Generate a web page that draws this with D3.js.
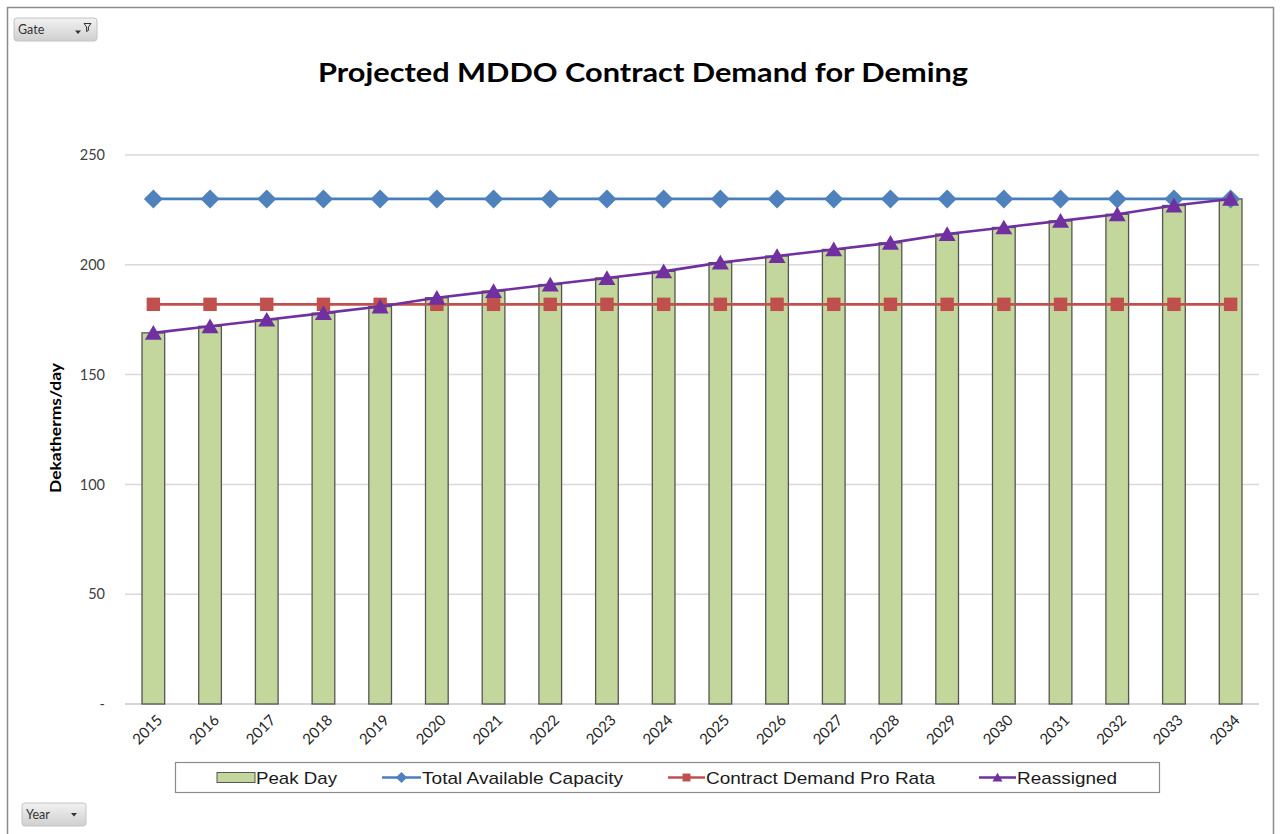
<!DOCTYPE html>
<html>
<head>
<meta charset="utf-8">
<script src="https://cdn.jsdelivr.net/npm/d3@7"></script>
<style>
  body { margin: 0; background: #fff; }
  svg { display: block; }
</style>
</head>
<body>
<svg id="chart" width="1280" height="834"></svg>
<script>
// chart data
const years = ["2015", "2016", "2017", "2018", "2019", "2020", "2021", "2022", "2023", "2024",
  "2025", "2026", "2027", "2028", "2029", "2030", "2031", "2032", "2033", "2034"];
const peakDay = [169, 172, 175, 178, 181, 185, 188, 191, 194, 197,
  201, 204, 207, 210, 214, 217, 220, 223, 227, 230];
const totalCapacity = [230, 230, 230, 230, 230, 230, 230, 230, 230, 230,
  230, 230, 230, 230, 230, 230, 230, 230, 230, 230];
const contractProRata = [182, 182, 182, 182, 182, 182, 182, 182, 182, 182,
  182, 182, 182, 182, 182, 182, 182, 182, 182, 182];
const reassigned = [169, 172, 175, 178, 181, 185, 188, 191, 194, 197,
  201, 204, 207, 210, 214, 217, 220, 223, 227, 230];
const yTicks = [0, 50, 100, 150, 200, 250];
const yTickLabels = ["-", "50", "100", "150", "200", "250"];

const svg = d3.select('#chart');
const labelFont = "Lato, 'Open Sans', sans-serif";

// outer frame
svg.append("path")
  .attr("d", "M7.5,840 V7.5 H1273.5 V840")
  .attr("fill", "none")
  .attr("stroke", "#8c8c8c")
  .attr("stroke-width", 1.5);

const plot = { left: 125, right: 1259, top: 155, bottom: 704 };

const x = d3.scaleBand()
  .domain(years)
  .range([plot.left, plot.right])
  .paddingInner(0.6)
  .paddingOuter(0.3);
const cx = d => x(d) + x.bandwidth() / 2;

const y = d3.scaleLinear().domain([0, 250]).range([plot.bottom, plot.top]);

// gridlines
svg.append("g")
  .selectAll("line")
  .data(yTicks)
  .join("line")
  .attr("x1", plot.left)
  .attr("x2", plot.right)
  .attr("y1", d => y(d))
  .attr("y2", d => y(d))
  .attr("stroke", d => d === 0 ? "#c8c8c8" : "#d9d9d9")
  .attr("stroke-width", 1.5);

// y axis labels
const yAxis = d3.axisLeft(y)
  .tickValues(yTicks)
  .tickSize(0)
  .tickPadding(20)
  .tickFormat((d, i) => yTickLabels[i]);
svg.append("g")
  .attr("transform", `translate(${plot.left},0)`)
  .call(yAxis)
  .call(g => g.select(".domain").remove())
  .call(g => g.selectAll("text")
    .attr("fill", "#404040")
    .style("font-family", labelFont)
    .style("font-size", "14.5px"));

// x axis labels
const xAxis = d3.axisBottom(x).tickSize(0).tickPadding(0);
svg.append("g")
  .attr("transform", `translate(0,${plot.bottom})`)
  .call(xAxis)
  .call(g => g.select(".domain").remove())
  .call(g => g.selectAll("text")
    .attr("fill", "#262626")
    .attr("text-anchor", "end")
    .attr("dy", "0")
    .attr("y", 0)
    .attr("transform", "translate(10,17) rotate(-45)")
    .style("font-family", labelFont)
    .style("font-size", "15px"));

// bars
svg.append("g")
  .selectAll("rect")
  .data(peakDay)
  .join("rect")
  .attr("x", (d, i) => x(years[i]))
  .attr("y", d => y(d))
  .attr("width", x.bandwidth())
  .attr("height", d => y(0) - y(d))
  .attr("fill", "#c3d69b")
  .attr("stroke", "#555")
  .attr("stroke-width", 1.3);

const series = [
  { name: "Total Available Capacity", values: totalCapacity, color: "#4a7ebb", marker: "#4f81bd",
    symbol: d3.symbolSquare, size: 180, rotate: 45 },
  { name: "Contract Demand Pro Rata", values: contractProRata, color: "#c0504d", marker: "#c0504d",
    symbol: d3.symbolSquare, size: 180, rotate: 0 },
  { name: "Reassigned", values: reassigned, color: "#7030a0", marker: "#7030a0",
    symbol: d3.symbolTriangle, size: 125, rotate: 0 }
];

const line = d3.line()
  .x((d, i) => cx(years[i]))
  .y(d => y(d));

series.forEach(s => {
  svg.append("path")
    .datum(s.values)
    .attr("d", line)
    .attr("fill", "none")
    .attr("stroke", s.color)
    .attr("stroke-width", 2.6);
  svg.append("g")
    .selectAll("path")
    .data(s.values)
    .join("path")
    .attr("d", d3.symbol(s.symbol, s.size))
    .attr("transform", (d, i) => `translate(${cx(years[i])},${y(d) + (s.symbol === d3.symbolTriangle ? 2 : 0)}) rotate(${s.rotate})`)
    .attr("fill", s.marker);
});

// title
svg.append("text")
  .attr("x", 643)
  .attr("y", 82)
  .attr("text-anchor", "middle")
  .attr("textLength", 650)
  .attr("lengthAdjust", "spacingAndGlyphs")
  .attr("fill", "#000")
  .style("font-family", labelFont)
  .style("font-weight", "bold")
  .style("font-size", "27px")
  .text("Projected MDDO Contract Demand for Deming");

// y axis title
svg.append("text")
  .attr("transform", "translate(61,428) rotate(-90)")
  .attr("text-anchor", "middle")
  .attr("textLength", 130)
  .attr("lengthAdjust", "spacingAndGlyphs")
  .attr("fill", "#000")
  .style("font-family", labelFont)
  .style("font-weight", "bold")
  .style("font-size", "15px")
  .text("Dekatherms/day");

// legend
const legend = svg.append("g");
legend.append("rect")
  .attr("x", 175.5).attr("y", 762.5)
  .attr("width", 984).attr("height", 30)
  .attr("fill", "#fff")
  .attr("stroke", "#8c8c8c")
  .attr("stroke-width", 1.2);

const legendFont = "'Liberation Sans', Arial, sans-serif";
const ly = 777.5;

legend.append("rect")
  .attr("x", 217).attr("y", ly - 5)
  .attr("width", 38).attr("height", 10)
  .attr("fill", "#c3d69b")
  .attr("stroke", "#555")
  .attr("stroke-width", 1);

const legendItems = [
  { text: "Peak Day", x0: null, tx: 256, w: 81 },
  { text: series[0].name, s: series[0], x0: 382, tx: 422, w: 201 },
  { text: series[1].name, s: series[1], x0: 668, tx: 706, w: 229 },
  { text: series[2].name, s: series[2], x0: 979, tx: 1017, w: 100 }
];

legendItems.forEach(it => {
  if (it.s) {
    legend.append("line")
      .attr("x1", it.x0).attr("x2", it.tx - 1)
      .attr("y1", ly).attr("y2", ly)
      .attr("stroke", it.s.color)
      .attr("stroke-width", 2.6);
    legend.append("path")
      .attr("d", d3.symbol(it.s.symbol, it.s.size * 0.35))
      .attr("transform", `translate(${(it.x0 + it.tx - 1) / 2},${ly + (it.s.symbol === d3.symbolTriangle ? 1 : 0)}) rotate(${it.s.rotate})`)
      .attr("fill", it.s.marker);
  }
  legend.append("text")
    .attr("x", it.tx)
    .attr("y", ly + 6)
    .attr("textLength", it.w)
    .attr("lengthAdjust", "spacingAndGlyphs")
    .attr("fill", "#1a1a1a")
    .style("font-family", legendFont)
    .style("font-size", "17px")
    .text(it.text);
});

// field buttons (pivot chart)
function fieldButton(bx, by, w, h, label, withFilter) {
  const defs = svg.select("defs").empty() ? svg.append("defs") : svg.select("defs");
  if (defs.select("#btnGrad").empty()) {
    const gr = defs.append("linearGradient").attr("id", "btnGrad")
      .attr("x1", 0).attr("x2", 0).attr("y1", 0).attr("y2", 1);
    gr.append("stop").attr("offset", "0%").attr("stop-color", "#f2f2f2");
    gr.append("stop").attr("offset", "100%").attr("stop-color", "#cfcfcf");
  }
  const g = svg.append("g").attr("transform", `translate(${bx},${by})`);
  g.append("rect")
    .attr("width", w).attr("height", h).attr("rx", 3)
    .attr("fill", "url(#btnGrad)")
    .attr("stroke", "#c4c4c4");
  g.append("text")
    .attr("x", 4).attr("y", h / 2 + 4.5)
    .attr("fill", "#333")
    .style("font-family", labelFont)
    .style("font-size", "12.5px")
    .text(label);
  const ax = withFilter ? w - 19 : w - 12;
  g.append("path")
    .attr("d", `M${ax - 3},${h / 2 + (withFilter ? 1 : -1.5)} h6 l-3,3.5 z`)
    .attr("fill", "#333");
  if (withFilter) {
    g.append("path")
      .attr("d", `M${w - 13},${h / 2 - 6} h7 l-2.6,3.5 v3.5 l-1.8,1 v-4.5 z`)
      .attr("fill", "none")
      .attr("stroke", "#333")
      .attr("stroke-width", 1);
  }
}
fieldButton(14, 18, 83, 23, "Gate", true);
fieldButton(22, 803, 64, 23, "Year", false);
</script>
</body>
</html>
